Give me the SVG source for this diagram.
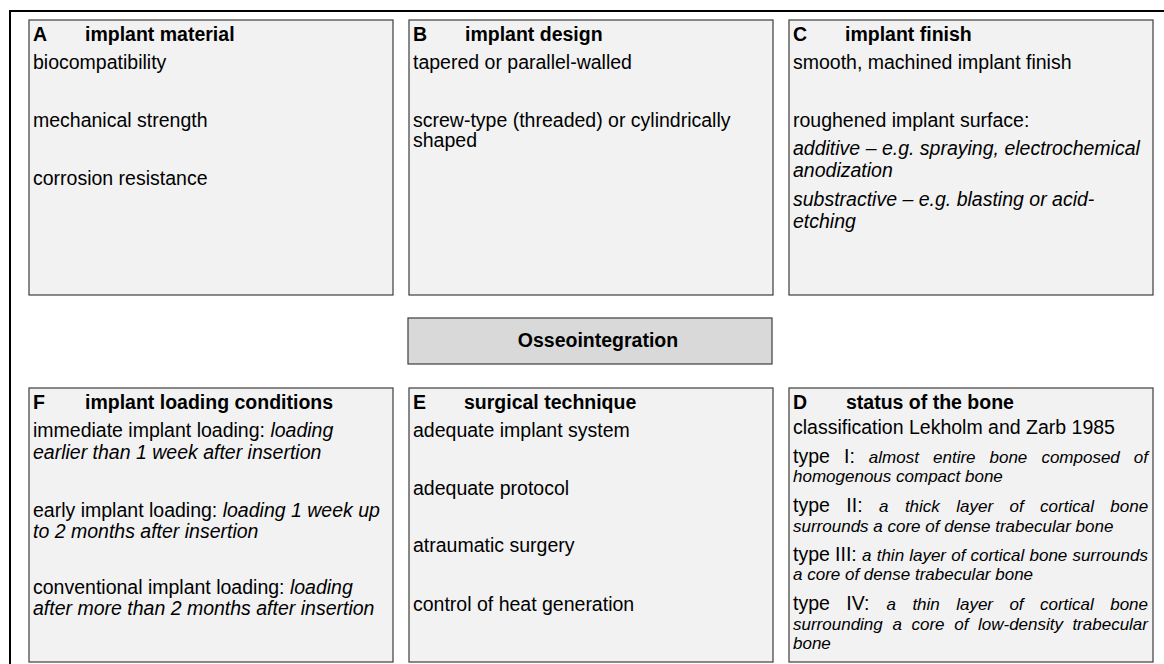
<svg xmlns="http://www.w3.org/2000/svg" width="1164" height="664" viewBox="0 0 1164 664">
<style>
.box{fill:#f2f2f2;stroke:#3c3c3c;stroke-width:1.2}
.core{fill:#d9d9d9;stroke:#3c3c3c;stroke-width:1.2}
text{font-family:"Liberation Sans",Arial,sans-serif;fill:#000}
.t{font-size:19.5px;font-weight:bold}
.b{font-size:19.5px}
.i{font-style:italic}
.s{font-size:17px;font-style:italic}
</style>
<rect width="1164" height="664" fill="#fff"/>
<rect x="10" y="11" width="1200" height="700" fill="none" stroke="#000" stroke-width="2"/>
<g id="connectors"/>
<g id="nodeA">
<rect class="box" x="29" y="20" width="364" height="275"/>
<text class="t" y="41"><tspan x="33">A</tspan><tspan x="85">implant material</tspan></text>
<text class="b" x="33" y="69">biocompatibility</text>
<text class="b" x="33" y="127">mechanical strength</text>
<text class="b" x="33" y="185">corrosion resistance</text>
</g>
<g id="nodeB">
<rect class="box" x="409" y="20" width="364" height="275"/>
<text class="t" y="41"><tspan x="413">B</tspan><tspan x="465">implant design</tspan></text>
<text class="b" x="413" y="69">tapered or parallel-walled</text>
<text class="b" x="413" y="127">screw-type (threaded) or cylindrically</text>
<text class="b" x="413" y="147">shaped</text>
</g>
<g id="nodeC">
<rect class="box" x="789" y="20" width="364" height="275"/>
<text class="t" y="41"><tspan x="793">C</tspan><tspan x="845">implant finish</tspan></text>
<text class="b" x="793" y="69">smooth, machined implant finish</text>
<text class="b" x="793" y="127">roughened implant surface:</text>
<text class="b i" x="793" y="154.5">additive – e.g. spraying, electrochemical</text>
<text class="b i" x="793" y="177">anodization</text>
<text class="b i" x="793" y="205.5">substractive – e.g. blasting or acid-</text>
<text class="b i" x="793" y="228">etching</text>
</g>
<g id="nodeCore">
<rect class="core" x="408" y="318" width="364" height="46"/>
<text class="t" x="598" y="347" text-anchor="middle">Osseointegration</text>
</g>
<g id="nodeF">
<rect class="box" x="29" y="388" width="364" height="274"/>
<text class="t" y="409"><tspan x="33">F</tspan><tspan x="85">implant loading conditions</tspan></text>
<text class="b" x="33" y="437">immediate implant loading: <tspan class="i">loading</tspan></text>
<text class="b i" x="33" y="458.5">earlier than 1 week after insertion</text>
<text class="b" x="33" y="516.5">early implant loading: <tspan class="i">loading 1 week up</tspan></text>
<text class="b i" x="33" y="537.5">to 2 months after insertion</text>
<text class="b" x="33" y="593.5">conventional implant loading: <tspan class="i">loading</tspan></text>
<text class="b i" x="33" y="615">after more than 2 months after insertion</text>
</g>
<g id="nodeE">
<rect class="box" x="409" y="388" width="364" height="274"/>
<text class="t" y="409"><tspan x="413">E</tspan><tspan x="464">surgical technique</tspan></text>
<text class="b" x="413" y="437">adequate implant system</text>
<text class="b" x="413" y="495">adequate protocol</text>
<text class="b" x="413" y="552">atraumatic surgery</text>
<text class="b" x="413" y="611">control of heat generation</text>
</g>
<g id="nodeD">
<rect class="box" x="789" y="388" width="364" height="274"/>
<text class="t" y="408.5"><tspan x="793">D</tspan><tspan x="846">status of the bone</tspan></text>
<text class="b" x="793" y="433.5">classification Lekholm and Zarb 1985</text>
<text y="462.5"><tspan class="b" x="793">type</tspan><tspan class="b" x="844">I:</tspan><tspan class="s" x="868.8">almost</tspan><tspan class="s" x="933">entire</tspan><tspan class="s" x="989.5">bone</tspan><tspan class="s" x="1041.4">composed</tspan><tspan class="s" x="1133.8">of</tspan></text>
<text class="s" x="793" y="481.5">homogenous compact bone</text>
<text y="511.5"><tspan class="b" x="793">type</tspan><tspan class="b" x="846.3">II:</tspan><tspan class="s" x="879">a</tspan><tspan class="s" x="904.9">thick</tspan><tspan class="s" x="956.3">layer</tspan><tspan class="s" x="1009.5">of</tspan><tspan class="s" x="1040.1">cortical</tspan><tspan class="s" x="1110.3">bone</tspan></text>
<text class="s" x="793" y="531.5">surrounds a core of dense trabecular bone</text>
<text y="560.5"><tspan class="b" x="793">type</tspan><tspan class="b" x="835.1">III:</tspan><tspan class="s" x="862">a</tspan><tspan class="s" x="876.7">thin</tspan><tspan class="s" x="909.2">layer</tspan><tspan class="s" x="951.2">of</tspan><tspan class="s" x="970.5">cortical</tspan><tspan class="s" x="1029.5">bone</tspan><tspan class="s" x="1072.4">surrounds</tspan></text>
<text class="s" x="793" y="580">a core of dense trabecular bone</text>
<text y="609.5"><tspan class="b" x="793">type</tspan><tspan class="b" x="846.3">IV:</tspan><tspan class="s" x="886.5">a</tspan><tspan class="s" x="912.4">thin</tspan><tspan class="s" x="956.2">layer</tspan><tspan class="s" x="1009.4">of</tspan><tspan class="s" x="1040">cortical</tspan><tspan class="s" x="1110.2">bone</tspan></text>
<text y="629.5"><tspan class="s" x="793">surrounding</tspan><tspan class="s" x="892.4">a</tspan><tspan class="s" x="911.5">core</tspan><tspan class="s" x="954.2">of</tspan><tspan class="s" x="978">low-density</tspan><tspan class="s" x="1072.4">trabecular</tspan></text>
<text class="s" x="793" y="648.5">bone</text>
</g>
</svg>
